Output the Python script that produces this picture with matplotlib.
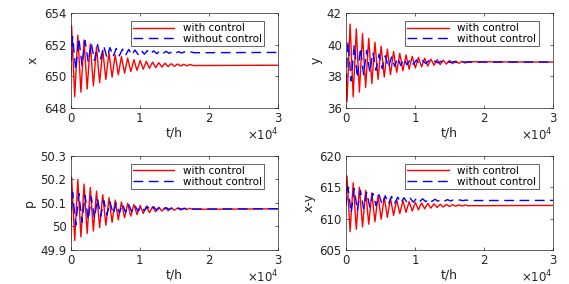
import matplotlib
matplotlib.use("Agg")
import matplotlib.pyplot as plt
from matplotlib.ticker import FuncFormatter

plt.rcParams["font.family"] = ["DejaVu Sans"]
plt.rcParams["mathtext.fontset"] = "dejavusans"

# extremum times (h), shared by all four panels
T_WITH = [0, 150, 600, 1050, 1500, 1950, 2400, 2850, 3300, 3750, 4200, 4650,
          5100, 5550, 6000, 6450, 6900, 7350, 7800, 8250, 8700, 9150, 9600,
          10050, 10500, 10950, 11400, 11850, 12300, 12750, 13200, 13650,
          14100, 14550, 15000, 15450, 15900, 16350, 16800, 17250, 17700, 30000]
T_WITHOUT = [0, 300, 750, 1200, 1650, 2100, 2550, 3000, 3450, 3900, 4350, 4800,
             5250, 5700, 6150, 6600, 7050, 7500, 7950, 8400, 8850, 9300, 9750,
             10200, 10650, 11100, 11550, 12000, 12450, 12900, 13350, 13800,
             14250, 14700, 15150, 15600, 16050, 16500, 16950, 17400, 17850, 30000]

X_WITH = [650.3, 653.2,
          648.7, 652.6, 649.0, 652.3, 649.2, 652.05, 649.4, 651.85, 649.6, 651.65,
          649.8, 651.5, 649.95, 651.35, 650.1, 651.25, 650.2, 651.15, 650.3, 651.05,
          650.38, 651.0, 650.45, 650.95, 650.5, 650.9, 650.55, 650.86, 650.58, 650.83,
          650.61, 650.8, 650.63, 650.78, 650.65, 650.76, 650.66, 650.75,
          650.68, 650.7]
X_WITHOUT = [650.0, 652.5,
             650.4, 652.4, 650.7, 652.25, 650.9, 652.1, 651.0, 652.0, 651.1, 651.9,
             651.2, 651.82, 651.25, 651.76, 651.3, 651.72, 651.33, 651.7, 651.35, 651.67,
             651.38, 651.65, 651.4, 651.63, 651.42, 651.61, 651.43, 651.6, 651.44, 651.58,
             651.45, 651.57, 651.46, 651.56, 651.47, 651.55, 651.48, 651.54,
             651.49, 651.51]

Y_WITH = [38.0, 36.4,
          41.3, 36.7, 41.0, 37.0, 40.7, 37.3, 40.4, 37.55, 40.15, 37.8,
          39.9, 37.95, 39.72, 38.1, 39.57, 38.25, 39.45, 38.35, 39.35, 38.45,
          39.26, 38.53, 39.2, 38.6, 39.14, 38.65, 39.09, 38.7, 39.05, 38.74,
          39.02, 38.77, 39.0, 38.8, 38.97, 38.82, 38.95, 38.84,
          38.92, 38.9]
Y_WITHOUT = [37.6, 40.2,
             37.7, 40.0, 37.9, 39.8, 38.1, 39.65, 38.25, 39.5, 38.38, 39.4,
             38.48, 39.3, 38.56, 39.22, 38.63, 39.16, 38.68, 39.1, 38.72, 39.06,
             38.76, 39.03, 38.79, 39.0, 38.81, 38.98, 38.83, 38.96, 38.85, 38.95,
             38.86, 38.94, 38.87, 38.93, 38.88, 38.92, 38.89, 38.91,
             38.895, 38.9]

P_WITH = [49.93, 50.21,
          49.94, 50.2, 49.955, 50.18, 49.97, 50.165, 49.98, 50.15, 49.995, 50.135,
          50.005, 50.122, 50.017, 50.112, 50.028, 50.104, 50.037, 50.098, 50.044, 50.093,
          50.05, 50.089, 50.055, 50.086, 50.059, 50.084, 50.062, 50.082, 50.065, 50.08,
          50.067, 50.079, 50.069, 50.078, 50.07, 50.077, 50.072, 50.077,
          50.073, 50.075]
P_WITHOUT = [50.0, 50.145,
             50.005, 50.14, 50.018, 50.132, 50.028, 50.125, 50.035, 50.118, 50.042, 50.11,
             50.048, 50.104, 50.053, 50.099, 50.057, 50.095, 50.06, 50.092, 50.063, 50.089,
             50.065, 50.087, 50.067, 50.085, 50.068, 50.083, 50.07, 50.081, 50.071, 50.08,
             50.072, 50.079, 50.073, 50.078, 50.073, 50.077, 50.074, 50.076,
             50.074, 50.075]

XY_WITH = [613.0, 616.8,
           607.9, 615.7, 608.3, 615.0, 608.7, 614.5, 609.1, 614.1, 609.5, 613.7,
           609.9, 613.4, 610.2, 613.2, 610.5, 613.0, 610.8, 612.85, 611.0, 612.7,
           611.2, 612.6, 611.4, 612.5, 611.55, 612.42, 611.67, 612.36, 611.77, 612.3,
           611.85, 612.26, 611.92, 612.22, 611.97, 612.19, 612.0, 612.17,
           612.05, 612.1]
XY_WITHOUT = [612.0, 615.0,
              610.9, 614.8, 611.3, 614.5, 611.6, 614.2, 611.85, 614.0, 612.05, 613.8,
              612.2, 613.65, 612.32, 613.52, 612.42, 613.42, 612.5, 613.34, 612.57, 613.27,
              612.62, 613.21, 612.67, 613.16, 612.71, 613.12, 612.74, 613.08, 612.77, 613.05,
              612.8, 613.02, 612.82, 613.0, 612.84, 612.98, 612.86, 612.96,
              612.88, 612.9]

PANELS = [
    ("x", X_WITH, X_WITHOUT, (648, 654), [648, 650, 652, 654], ["648", "650", "652", "654"]),
    ("y", Y_WITH, Y_WITHOUT, (36, 42), [36, 38, 40, 42], ["36", "38", "40", "42"]),
    ("p", P_WITH, P_WITHOUT, (49.9, 50.3), [49.9, 50.0, 50.1, 50.2, 50.3],
     ["49.9", "50", "50.1", "50.2", "50.3"]),
    ("x-y", XY_WITH, XY_WITHOUT, (605, 620), [605, 610, 615, 620], ["605", "610", "615", "620"]),
]

fig = plt.figure(figsize=(5.69, 2.84), dpi=100)
boxes = [(0.124, 0.620, 0.365, 0.334), (0.608, 0.620, 0.364, 0.334),
         (0.124, 0.120, 0.365, 0.331), (0.608, 0.120, 0.364, 0.331)]

INK = "#262626"
for (name, with_c, without_c, ylim, yticks, ylabels), box in zip(PANELS, boxes):
    ax = fig.add_axes(box)
    ax.plot(T_WITH, with_c, color="red", lw=1.0, label="with control")
    ax.plot(T_WITHOUT, without_c, color="blue", lw=1.0, ls=(0, (7, 4)),
            label="without control")
    ax.set_xlim(0, 30000)
    ax.set_ylim(*ylim)
    ax.set_yticks(yticks)
    ax.set_yticklabels(ylabels)
    ax.set_xticks([0, 10000, 20000, 30000])
    ax.xaxis.set_major_formatter(FuncFormatter(lambda v, _: f"{v / 1e4:g}"))
    ax.text(1.0, -0.29, r"$\times10^{4}$", transform=ax.transAxes, ha="right",
            va="center", fontsize=8.5, color=INK)
    ax.tick_params(direction="in", top=True, right=True, labelsize=8.5,
                   length=2.5, width=0.5, colors=INK, pad=3)
    for sp in ax.spines.values():
        sp.set_linewidth(0.5)
        sp.set_color(INK)
    ax.set_xlabel("t/h", fontsize=9, labelpad=1, color=INK)
    ax.set_ylabel(name, fontsize=9, labelpad=3, color=INK)
    leg = ax.legend(loc="upper right", bbox_to_anchor=(0.93, 0.915), borderaxespad=0,
                    fontsize=7.5, fancybox=False, framealpha=1, edgecolor=INK,
                    handlelength=4.0, borderpad=0.2, labelspacing=0.05, handletextpad=0.8)
    leg.get_frame().set_linewidth(0.5)

fig.savefig("out.png", dpi=100)
